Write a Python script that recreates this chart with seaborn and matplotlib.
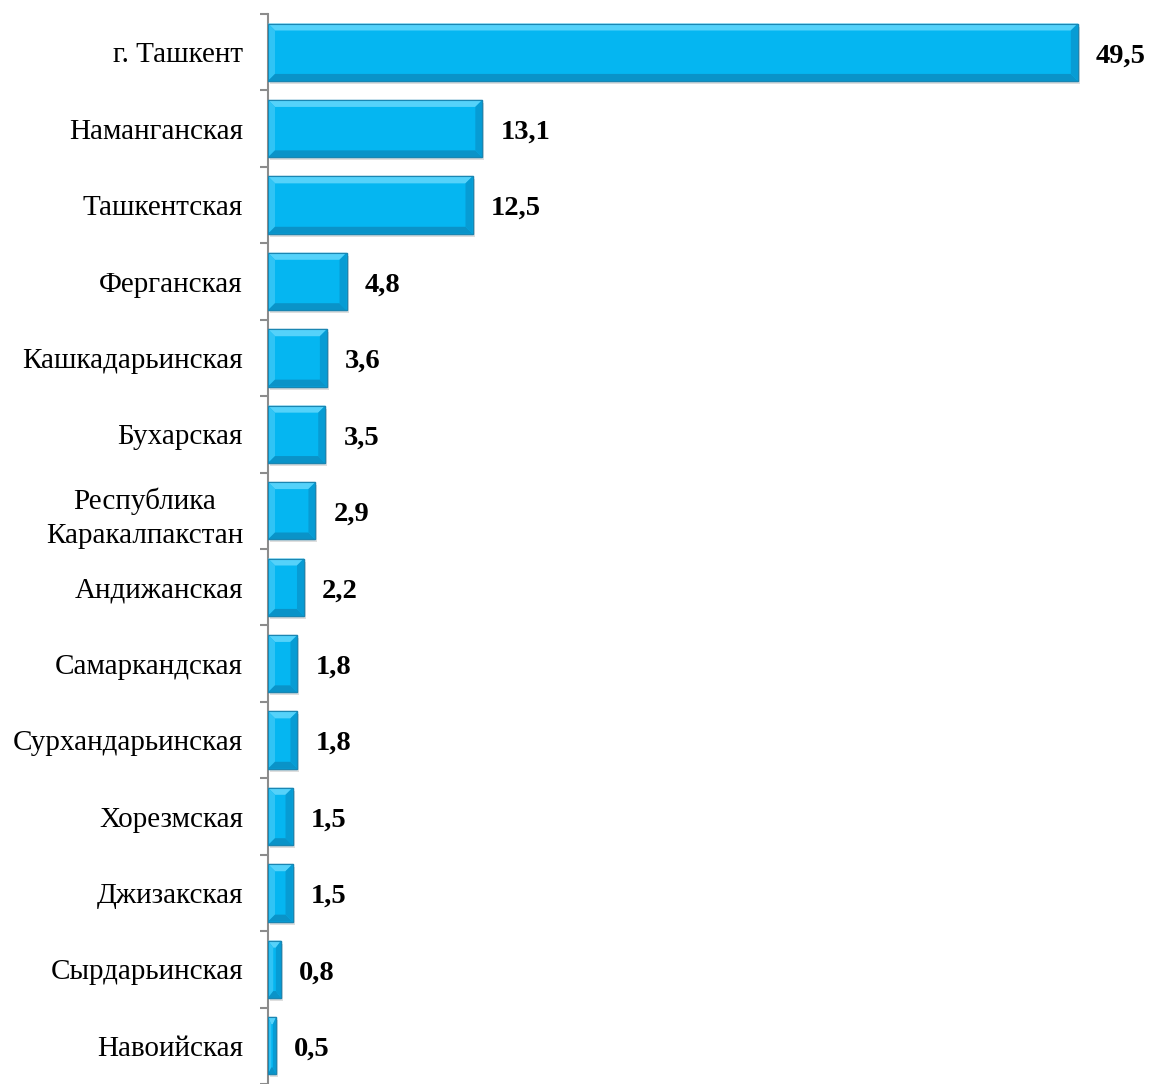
import matplotlib
matplotlib.use("Agg")
import matplotlib.pyplot as plt
import seaborn as sns
import pandas as pd
import numpy as np
from matplotlib.patches import Polygon, Rectangle

regions = ["г. Ташкент", "Наманганская", "Ташкентская", "Ферганская", "Кашкадарьинская",
           "Бухарская", "Республика\nКаракалпакстан", "Андижанская", "Самаркандская",
           "Сурхандарьинская", "Хорезмская", "Джизакская", "Сырдарьинская", "Навоийская"]
values = [49.5, 13.1, 12.5, 4.8, 3.6, 3.5, 2.9, 2.2, 1.8, 1.8, 1.5, 1.5, 0.8, 0.5]
value_labels = ["49,5", "13,1", "12,5", "4,8", "3,6", "3,5", "2,9", "2,2", "1,8", "1,8",
                "1,5", "1,5", "0,8", "0,5"]

df = pd.DataFrame({"region": regions, "value": values})

sns.set_theme(style="white")
plt.rcParams['font.family'] = ['Liberation Serif', 'DejaVu Serif']

W, H = 1151, 1084
fig = plt.figure(figsize=(W / 100, H / 100), dpi=100)
ax_left, ax_top = 268, 14
slot = 77.0
xscale = 16.36
ax = fig.add_axes([ax_left / W, 0, (W - ax_left) / W, (H - ax_top) / H])

sns.barplot(data=df, x="value", y="region", orient="h", color="#05B6F1",
            width=0.75, saturation=1, ax=ax, edgecolor="#1580AE", linewidth=1.0, zorder=3)

ax.set_xlim(0, (W - ax_left) / xscale)
ax.set_ylim(-0.5 + (H - ax_top) / slot, -0.5)

# bevel effect derived from each bar's geometry
bx = 7 / xscale
by = 7 / slot
for p in list(ax.patches):
    x0, y0 = p.get_x(), p.get_y()
    w, h = p.get_width(), p.get_height()
    x1, y1 = x0 + w, y0 + h
    b = min(bx, w / 2.5)
    # shadow
    ax.add_patch(Rectangle((x0 + 2 / xscale, y0 + 3 / slot), w, h, facecolor="#c8c8c8",
                           edgecolor="none", alpha=0.6, zorder=2))
    # top (light)
    ax.add_patch(Polygon([(x0, y0), (x1, y0), (x1 - b, y0 + by), (x0 + b, y0 + by)],
                         closed=True, facecolor="#55D2FA", edgecolor="none", zorder=4))
    # left (light)
    ax.add_patch(Polygon([(x0, y0), (x0 + b, y0 + by), (x0 + b, y1 - by), (x0, y1)],
                         closed=True, facecolor="#30C4F5", edgecolor="none", zorder=4))
    # bottom (dark)
    ax.add_patch(Polygon([(x0, y1), (x0 + b, y1 - by), (x1 - b, y1 - by), (x1, y1)],
                         closed=True, facecolor="#0A93C8", edgecolor="none", zorder=4))
    # right (darker)
    ax.add_patch(Polygon([(x1, y0), (x1, y1), (x1 - b, y1 - by), (x1 - b, y0 + by)],
                         closed=True, facecolor="#079CD4", edgecolor="none", zorder=4))
    ax.add_patch(Rectangle((x0, y0), w, h, facecolor="none", edgecolor="#1A86B2",
                           linewidth=0.8, zorder=5))

for i, (v, lab) in enumerate(zip(values, value_labels)):
    ax.annotate(lab, xy=(v, i), xytext=(13, -2.5), textcoords="offset points",
                va="center", ha="left", fontsize=20.5, fontweight="bold", color="black")

for s in ["top", "right", "bottom"]:
    ax.spines[s].set_visible(False)
ax.spines["left"].set_color("#8c8c8c")
ax.spines["left"].set_linewidth(1.5)

ax.set_xticks([])
ax.set_xlabel("")
ax.set_ylabel("")
ax.set_yticks(range(len(regions)))
ax.set_yticklabels(regions, fontsize=21, color="black", multialignment="center",
                   linespacing=1.4)
ax.set_yticks(np.arange(-0.5, len(regions), 1.0), minor=True)
ax.tick_params(axis="y", which="major", length=0, pad=18)
ax.tick_params(axis="y", which="minor", length=6, width=1.5, color="#8c8c8c", left=True)

fig.savefig("out.png", dpi=100)
